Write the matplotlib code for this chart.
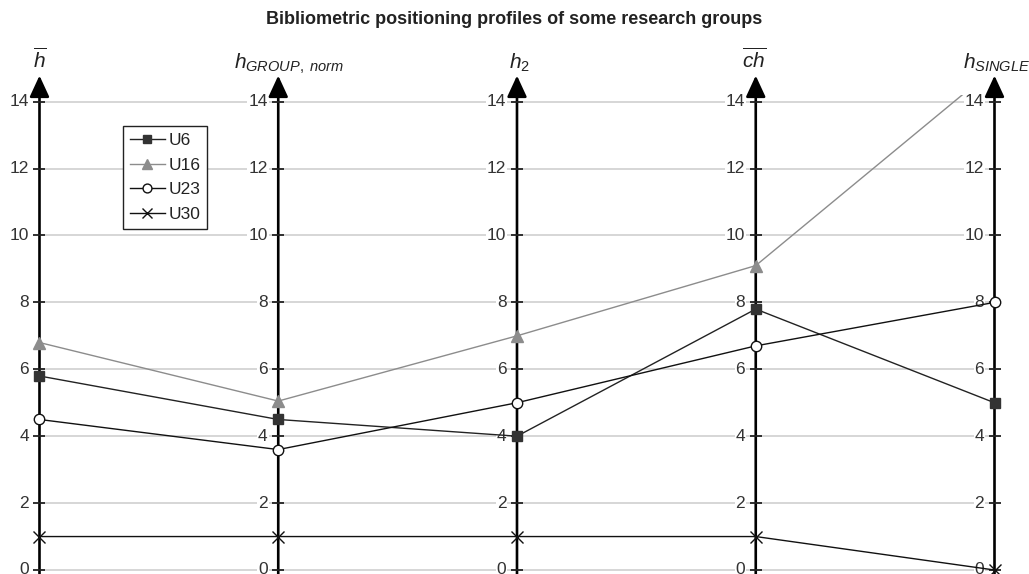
import matplotlib
matplotlib.use('Agg')
import matplotlib.pyplot as plt

plt.rcParams['font.family'] = 'Liberation Sans'
plt.rcParams['mathtext.fontset'] = 'custom'
plt.rcParams['mathtext.rm'] = 'Liberation Sans'
plt.rcParams['mathtext.it'] = 'Liberation Sans:italic'
plt.rcParams['mathtext.bf'] = 'Liberation Sans:bold'

# indicators, one vertical axis each
indicators = [r'$\overline{h}$', r'$h_{GROUP,\ norm}$', r'$h_2$',
              r'$\overline{ch}$', r'$h_{SINGLE}$']
label_shift = [0, 11, 2, -2, 2]  # small horizontal nudges of the axis titles (px)

# group profiles
u6 = [5.8, 4.5, 4.0, 7.8, 5.0]
u16 = [6.8, 5.05, 7.0, 9.1, 15.0]
u23 = [4.5, 3.6, 5.0, 6.7, 8.0]
u30 = [1, 1, 1, 1, 0]

yticks = [0, 2, 4, 6, 8, 10, 12, 14]

fig = plt.figure(figsize=(10.29, 5.74), dpi=100)
ax = fig.add_axes([0, 0, 1, (574 - 95) / 574])
ax.set_xlim(-0.1654, 4.1445)
ax.set_ylim(-4 / 33.45, 14.2)
ax.axis('off')

x = list(range(len(indicators)))

# horizontal grid between first and last axis
ax.hlines(yticks, 0, 4, colors='#d3d3d3', lw=1.3, zorder=0)

for i in x:
    # axis with arrowhead
    ax.annotate('', xy=(i, 14.78), xytext=(i, -0.5), annotation_clip=False,
                arrowprops=dict(arrowstyle='-|>,head_length=0.65,head_width=0.3',
                                lw=1.9, color='black', mutation_scale=20,
                                shrinkA=0, shrinkB=0, clip_on=False),
                zorder=2)
    ax.plot([i] * len(yticks), yticks, ls='none', marker='_', ms=9,
            mew=1.3, color='#222222', clip_on=False, zorder=2)
    for t in yticks:
        ax.annotate(str(t), xy=(i, t), xytext=(-10.5, 0), textcoords='offset pixels',
                    ha='right', va='center', fontsize=12.5, color='#333333',
                    bbox=dict(boxstyle='square,pad=0.05', fc='white', ec='none'),
                    zorder=1, annotation_clip=False)
    ax.annotate(indicators[i], xy=(i, 15.0), xytext=(label_shift[i], 0),
                textcoords='offset pixels', ha='center', va='baseline',
                fontsize=15, color='#222222', annotation_clip=False)

ax.plot(x, u6, color='#222222', lw=1.0, marker='s', ms=7.5,
        mfc='#333333', mec='#333333', label='U6', zorder=3)
ax.plot(x, u16, color='#8c8c8c', lw=1.0, marker='^', ms=9,
        mfc='#8c8c8c', mec='#8c8c8c', label='U16', zorder=3)
ax.plot(x, u23, color='#111111', lw=1.0, marker='o', ms=7.5,
        mfc='white', mec='#111111', mew=1.0, label='U23', zorder=3)
ax.plot(x, u30, color='#111111', lw=1.0, marker='x', ms=9,
        mec='#111111', mew=1.0, label='U30', zorder=3)

leg = ax.legend(loc='upper left', bbox_to_anchor=(123 / 1029, 1 - 126 / 574),
                bbox_transform=fig.transFigure, borderaxespad=0,
                fontsize=12.5, handlelength=2.0, handletextpad=0.2,
                labelspacing=0.55, borderpad=0.4, markerscale=0.85,
                fancybox=False, framealpha=1, edgecolor='#222222')
leg.get_frame().set_linewidth(1.0)
for txt in leg.get_texts():
    txt.set_color('#222222')

fig.text(0.5, 1 - 20 / 574, 'Bibliometric positioning profiles of some research groups',
         ha='center', va='center', fontsize=13, fontweight='bold', color='#222222')

fig.savefig('out.png', dpi=100)
